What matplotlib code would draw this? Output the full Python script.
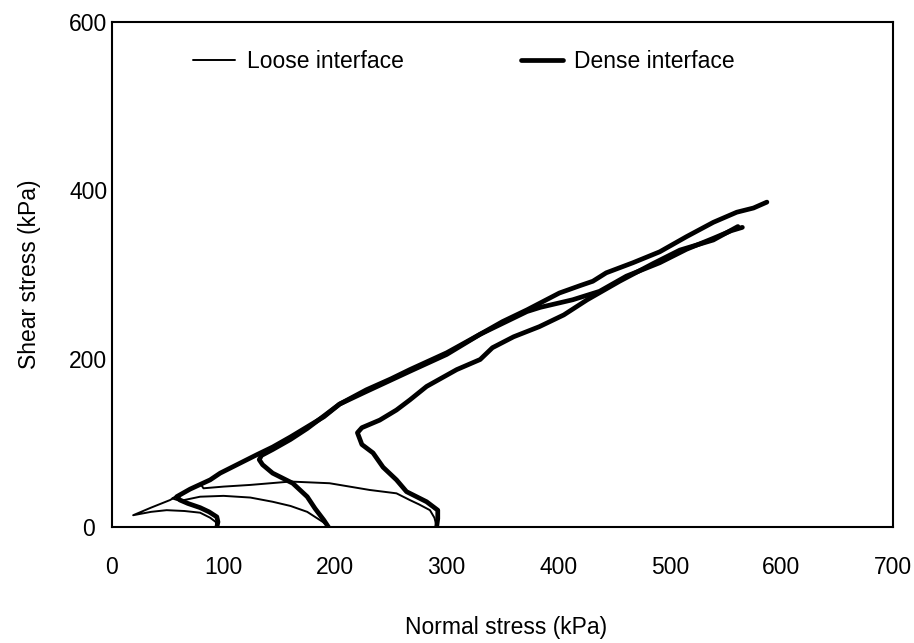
import matplotlib
matplotlib.use("Agg")
import matplotlib.pyplot as plt

plt.rcParams['font.family'] = ['Liberation Sans', 'DejaVu Sans']

# ---loose interface (thin lines), initial normal stress 100 / 200 / 300 kPa
loose100_x = [94, 93, 88, 79, 65, 49, 35, 19, 35, 52, 60]
loose100_y = [0, 6, 11, 17, 19, 20, 18, 14, 23, 32, 38]
loose200_x = [194, 189, 175, 160, 144, 124, 100, 79, 61, 54, 64, 76]
loose200_y = [0, 6, 18, 25, 30, 35, 37, 36, 31, 34, 41, 49]
loose300_x = [291, 290, 289, 285, 275, 267, 255, 231, 204, 195, 160, 124, 100, 82, 80, 92, 104]
loose300_y = [0, 6, 11, 20, 27, 32, 40, 44, 50, 52, 54, 50, 48, 46, 50, 60, 68]

# ---dense interface (thick lines)
dense100_x = [94, 95, 94, 87, 79, 68, 61, 58, 70, 88, 97, 115, 130, 144, 160, 175, 190,
              204, 228, 250, 267, 300, 330, 350, 372, 401, 420, 431, 443, 467, 491, 515,
              539, 560, 575, 587]
dense100_y = [0, 6, 12, 18, 23, 28, 32, 36, 45, 56, 64, 76, 86, 95, 107, 119, 131,
              146, 163, 176, 187, 207, 229, 244, 258, 278, 287, 292, 302, 314, 327, 345,
              362, 374, 379, 386]
dense200_x = [194, 190, 182, 175, 162, 150, 144, 135, 132, 134, 144, 160, 175, 204, 228,
              267, 300, 330, 372, 384, 413, 437, 461, 491, 515, 539, 555, 565]
dense200_y = [0, 8, 22, 36, 52, 60, 64, 74, 80, 85, 92, 104, 117, 146, 161,
              185, 205, 229, 256, 261, 270, 280, 298, 314, 330, 343, 352, 356]
dense300_x = [291, 292, 292, 282, 264, 255, 243, 234, 224, 220, 224, 240, 255, 267, 282,
              309, 330, 341, 360, 383, 405, 426, 455, 485, 509, 539, 561]
dense300_y = [0, 10, 20, 30, 42, 56, 71, 88, 98, 112, 118, 127, 139, 151, 167,
              187, 199, 213, 226, 238, 252, 270, 292, 313, 329, 341, 357]

xticks = [0, 100, 200, 300, 400, 500, 600, 700]
yticks = [0, 200, 400, 600]

fig = plt.figure(figsize=(9.14, 6.43), dpi=100)
ax = fig.add_axes([0.1225, 0.1804, 0.8545, 0.7854])

thin = dict(color='black', lw=1.4, solid_capstyle='round', solid_joinstyle='round')
thick = dict(color='black', lw=3.4, solid_capstyle='round', solid_joinstyle='round')

ax.plot(loose100_x, loose100_y, label='Loose interface', **thin)
ax.plot(loose200_x, loose200_y, **thin)
ax.plot(loose300_x, loose300_y, **thin)
ax.plot(dense100_x, dense100_y, label='Dense interface', **thick)
ax.plot(dense200_x, dense200_y, **thick)
ax.plot(dense300_x, dense300_y, **thick)

fs = 16.5
ax.set_xlim(0, 700)
ax.set_ylim(0, 600)
ax.set_xticks(xticks)
ax.set_yticks(yticks)
ax.tick_params(axis='both', length=0, labelsize=fs)
ax.tick_params(axis='x', pad=21)
ax.tick_params(axis='y', pad=17)
for lab in ax.get_yticklabels():
    lab.set_horizontalalignment('center')
for sp in ax.spines.values():
    sp.set_linewidth(1.5)

ax.set_xlabel('Normal stress (kPa)', fontsize=fs)
ax.set_ylabel('Shear stress (kPa)', fontsize=fs)
ax.xaxis.set_label_coords(0.505, -0.176)
ax.yaxis.set_label_coords(-0.091, 0.5)

ax.legend(loc='upper left', bbox_to_anchor=(0.1037, 0.944), ncol=2, frameon=False,
          fontsize=fs, borderpad=0, borderaxespad=0, handlelength=1.85,
          handletextpad=0.5, columnspacing=5.1)

fig.savefig('out.png', dpi=100)
